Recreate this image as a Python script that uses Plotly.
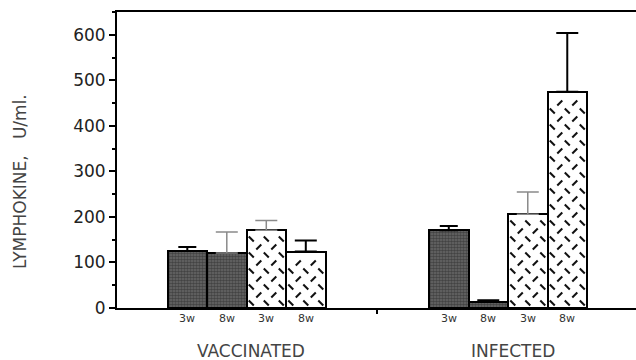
import plotly.graph_objects as go

# Lymphokine production (U/ml) at 3 and 8 weeks
groups = ["VACCINATED", "INFECTED"]
weeks = ["3w", "8w", "3w", "8w"]
vaccinated = [125, 121, 171, 124]
vaccinated_err = [9, 46, 21, 24]
infected = [171, 13, 206, 475]
infected_err = [9, 4, 49, 129]

# layout in bar-width units along x
group_centers = [3.28, 9.9]
offsets = [-1.5, -0.5, 0.5, 1.5]
x_range = [0, 13.14]
y_range = [0, 650]
hatched = [False, False, True, True]
err_dotted = {(0, 1), (0, 2), (1, 2)}
cap_w = [9, 11, 11, 11]

L, R, T, B = 117, 0, 12, 52
W, H = 636, 360
px_x = (W - L - R) / (x_range[1] - x_range[0])
px_y = (H - T - B) / (y_range[1] - y_range[0])

fig = go.Figure()

all_vals = [vaccinated, infected]
all_errs = [vaccinated_err, infected_err]

for g, gc in enumerate(group_centers):
    for i, off in enumerate(offsets):
        xv = gc + off
        v = all_vals[g][i]
        e = all_errs[g][i]
        dotted = (g, i) in err_dotted
        if hatched[i]:
            marker = dict(color="white", line=dict(color="black", width=2))
        else:
            marker = dict(color="#6a6a6a", line=dict(color="black", width=2),
                          pattern=dict(shape=".", fgcolor="#1c1c1c", size=3,
                                       solidity=0.6, fillmode="overlay"))
        fig.add_trace(go.Bar(
            x=[xv], y=[v], width=1.0, marker=marker,
            error_y=dict(type="data", array=[e], arrayminus=[0], symmetric=False,
                         color="#8a8a8a" if dotted else "black",
                         thickness=1.5 if dotted else 2, width=cap_w[i]),
            showlegend=False, hoverinfo="skip"))

        # short-dash texture inside hatched bars: rows of "\" then rows of "/"
        if hatched[i]:
            dx_px, dy_px = 15.0, 8.0
            xs_nw, ys_nw, xs_ne, ys_ne = [], [], [], []
            half_w_px = 0.5 * px_x - 4
            row = 0
            ypx = 5
            while ypx < v * px_y - 4:
                shift = 0 if row % 2 == 0 else dx_px / 2
                for k in range(-3, 4):
                    cx = k * dx_px + shift
                    if abs(cx) <= half_w_px:
                        xd = xv + cx / px_x
                        yd = ypx / px_y
                        if row % 2 == 0:
                            xs_nw.append(xd); ys_nw.append(yd)
                        else:
                            xs_ne.append(xd); ys_ne.append(yd)
                row += 1
                ypx += dy_px
            for xs, ys, sym in ((xs_nw, ys_nw, "line-nw"), (xs_ne, ys_ne, "line-ne")):
                fig.add_trace(go.Scatter(
                    x=xs, y=ys, mode="markers",
                    marker=dict(symbol=sym, size=5, line=dict(color="#111", width=2)),
                    showlegend=False, hoverinfo="skip"))

annotations = []
for g, gc in enumerate(group_centers):
    for i, off in enumerate(offsets):
        annotations.append(dict(
            x=gc + off, y=-10 / (H - T - B), xref="x", yref="paper",
            text=weeks[i], showarrow=False, yanchor="middle",
            font=dict(family="DejaVu Sans", size=11, color="#333")))
    annotations.append(dict(
        x=gc + 0.12, y=-43 / (H - T - B), xref="x", yref="paper",
        text=groups[g], showarrow=False, yanchor="middle",
        font=dict(family="DejaVu Sans", size=17, color="#444")))

annotations.append(dict(
    x=-97 / (W - L - R), y=(308 - 182) / (H - T - B), xref="paper", yref="paper",
    text="LYMPHOKINE,\u00a0\u00a0\u00a0U/ml.", textangle=-90, showarrow=False,
    xanchor="center", yanchor="middle",
    font=dict(family="DejaVu Sans", size=17, color="#444")))

mid = (group_centers[0] + offsets[-1] + 0.5 + group_centers[1] + offsets[0] - 0.5) / 2

fig.update_layout(
    width=W, height=H,
    margin=dict(l=L, r=R, t=T, b=B, pad=0),
    paper_bgcolor="white", plot_bgcolor="white",
    bargap=0, barmode="overlay",
    annotations=annotations,
    xaxis=dict(range=x_range, showgrid=False, zeroline=False,
               showline=True, linecolor="black", linewidth=2, mirror=True,
               tickvals=[mid], ticktext=[""], ticks="outside", ticklen=4,
               tickwidth=2, tickcolor="black", fixedrange=True),
    yaxis=dict(range=y_range, showgrid=False, zeroline=False,
               showline=True, linecolor="black", linewidth=2,
               tickvals=[0, 100, 200, 300, 400, 500, 600],
               ticks="outside", ticklen=6, tickwidth=2, tickcolor="black",
               minor=dict(tickvals=[50, 150, 250, 350, 450, 550, 650],
                          ticks="outside", ticklen=3, tickwidth=2,
                          tickcolor="black"),
               tickfont=dict(family="DejaVu Sans", size=17, color="#222"),
               fixedrange=True),
)

fig.write_html("out.html")
